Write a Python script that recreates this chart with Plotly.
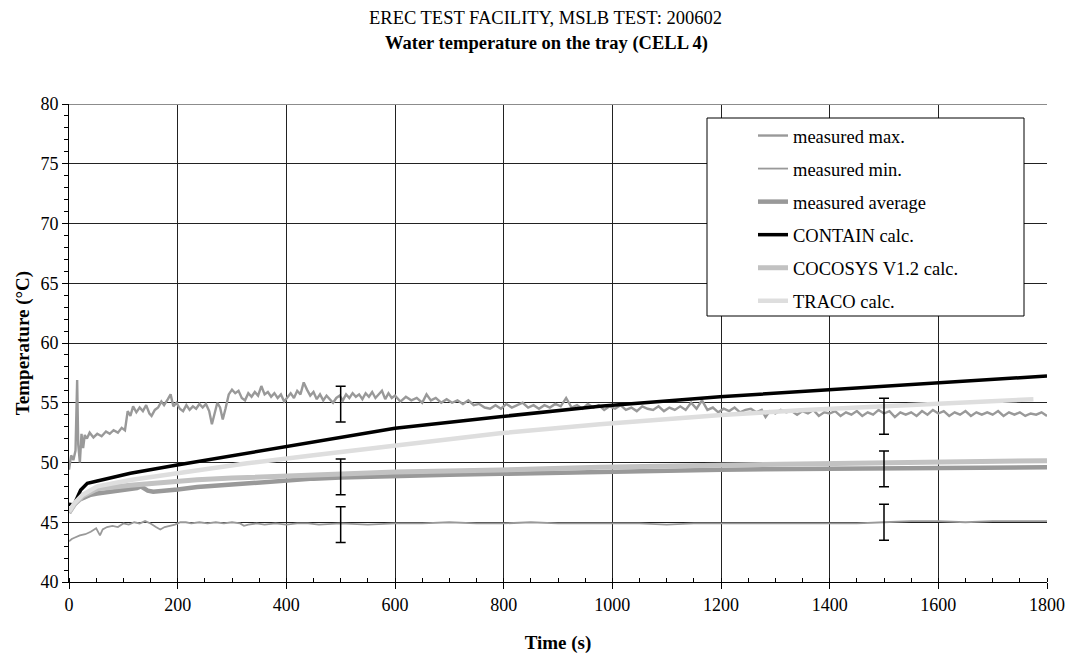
import plotly.graph_objects as go

# ---- measured maximum water temperature (s, °C) ----
max_time = [0, 4, 8, 12, 15, 17, 20, 23, 26, 29, 33, 38, 45, 52, 60, 68, 75, 82, 90, 97,
            103, 108, 113, 118, 124, 130, 136, 142, 148, 152, 158, 164, 170, 175, 182, 187,
            192, 198, 204, 210, 216, 222, 228, 234, 240, 246, 252, 258, 263, 268, 273, 278,
            283, 288, 294, 300, 306, 312, 318, 324, 330, 336, 342, 348, 354, 360, 366, 372,
            378, 384, 390, 396, 402, 408, 414, 420, 426, 432, 438, 444, 450, 456, 462, 468,
            474, 480, 486, 492, 498, 504, 510, 516, 522, 528, 534, 540, 546, 552, 558, 564,
            570, 576, 582, 588, 594, 600, 610, 620, 630, 640, 650, 658, 666, 675, 685, 695,
            705, 715, 725, 735, 745, 755, 765, 775, 785, 795, 805, 815, 825, 835, 845, 855,
            865, 875, 885, 895, 905, 915, 925, 935, 945, 955, 965, 975, 985, 995, 1005, 1015,
            1025, 1035, 1045, 1055, 1065, 1075, 1085, 1095, 1105, 1115, 1125, 1135, 1145,
            1155, 1165, 1175, 1185, 1195, 1205, 1215, 1225, 1235, 1245, 1255, 1265, 1275,
            1282, 1290, 1300, 1310, 1320, 1330, 1340, 1350, 1360, 1370, 1380, 1390, 1400,
            1410, 1420, 1430, 1440, 1450, 1460, 1470, 1480, 1490, 1500, 1510, 1520, 1530,
            1540, 1550, 1560, 1570, 1580, 1590, 1600, 1610, 1620, 1630, 1640, 1650, 1660,
            1670, 1680, 1690, 1700, 1710, 1720, 1730, 1740, 1750, 1760, 1770, 1780, 1790, 1800]
max_temp = [49.4, 50.6, 50.2, 51.0, 56.9, 51.5, 50.0, 52.4, 51.2, 52.3, 52.0, 52.5, 52.1, 52.4,
            52.2, 52.6, 52.4, 52.7, 52.5, 52.9, 52.7, 54.3, 53.9, 54.7, 54.2, 54.6, 54.3, 54.8,
            54.1, 53.9, 54.4, 54.6, 55.1, 54.8, 55.3, 55.7, 54.7, 55.0, 54.5, 54.3, 54.8, 54.4,
            54.7, 54.5, 54.9, 54.6, 54.9, 54.3, 53.2, 54.0, 55.0, 54.6, 53.6, 54.5, 55.7, 56.1,
            55.8, 56.0, 55.4, 55.2, 55.8, 55.5, 55.9, 55.6, 56.4, 55.7, 55.9, 55.5, 55.8, 55.4,
            55.7, 55.1, 55.5, 55.8, 55.4, 56.0, 55.7, 56.7, 56.1, 55.6, 55.9, 55.3, 55.7, 55.2,
            55.6, 55.3, 55.0, 55.4, 55.6, 55.2, 55.7, 55.4, 55.8, 55.5, 55.7, 55.3, 55.8, 55.5,
            55.9, 55.4, 55.7, 56.0, 55.3, 55.8, 55.4, 55.6, 55.1, 55.5, 55.2, 55.4, 55.0, 55.7,
            55.2, 55.4, 55.0, 55.3, 55.0, 55.2, 54.9, 55.2, 54.8, 54.9, 54.6, 54.5, 54.8, 54.5,
            54.9, 54.6, 54.8, 55.0, 54.6, 54.8, 54.5, 54.8, 54.6, 54.9, 54.7, 55.4, 54.6, 54.8,
            54.5, 54.9, 54.6, 54.8, 54.4, 54.7, 54.5, 54.8, 54.4, 54.6, 54.3, 54.7, 54.5, 54.4,
            54.7, 54.3, 54.6, 54.4, 54.7, 54.4, 55.0, 54.5, 55.2, 54.4, 54.6, 54.2, 54.5, 54.3,
            54.6, 54.2, 54.4, 54.5, 54.2, 54.4, 53.8, 54.3, 54.1, 54.4, 54.2, 54.3, 54.0, 54.3,
            54.1, 54.4, 53.9, 54.2, 54.1, 54.3, 53.9, 54.2, 54.0, 54.3, 53.9, 54.2, 54.0, 54.4,
            54.1, 54.3, 53.8, 54.2, 54.0, 54.2, 53.9, 54.3, 54.0, 54.4, 54.1, 54.3, 53.9, 54.2,
            54.0, 54.3, 53.9, 54.2, 54.0, 54.2, 54.0, 54.3, 53.9, 54.2, 54.0, 54.2, 53.9, 54.1,
            54.0, 54.2, 53.9]

# ---- measured minimum ----
min_time = [0, 5, 10, 20, 30, 40, 50, 57, 62, 70, 80, 90, 100, 110, 120, 130, 140, 150, 160,
            168, 176, 185, 195, 205, 215, 225, 240, 255, 270, 285, 300, 315, 322, 330, 345,
            360, 380, 400, 420, 440, 460, 500, 550, 600, 650, 700, 750, 800, 850, 900, 950,
            1000, 1050, 1100, 1150, 1200, 1250, 1300, 1350, 1400, 1450, 1500, 1550, 1600,
            1650, 1700, 1750, 1800]
min_temp = [43.4, 43.6, 43.7, 43.9, 44.0, 44.2, 44.5, 43.9, 44.4, 44.6, 44.7, 44.6, 44.9, 44.8,
            45.0, 44.9, 45.1, 44.9, 44.6, 44.4, 44.6, 44.7, 44.8, 45.0, 45.0, 44.9, 45.0, 44.9,
            45.0, 44.9, 45.0, 44.9, 44.7, 44.8, 44.9, 44.8, 44.9, 44.8, 44.9, 44.9, 44.8, 44.9,
            44.8, 44.9, 44.9, 45.0, 44.9, 44.9, 45.0, 44.9, 44.9, 44.9, 44.9, 44.8, 44.9, 44.9,
            44.9, 44.9, 44.9, 44.9, 44.9, 45.0, 45.1, 45.1, 45.0, 45.1, 45.1, 45.1]

# ---- measured average ----
avg_time = [0, 5, 10, 20, 28, 40, 52, 70, 85, 100, 113, 125, 132, 138, 145, 155, 175, 200,
            236, 280, 328, 380, 420, 450, 500, 600, 700, 793, 900, 1000, 1200, 1400, 1600, 1800]
avg_temp = [45.8, 46.2, 46.5, 46.9, 47.1, 47.3, 47.4, 47.5, 47.6, 47.65, 47.7, 47.85, 48.0,
            47.85, 47.65, 47.55, 47.6, 47.75, 47.95, 48.1, 48.25, 48.45, 48.55, 48.65, 48.75,
            48.9, 48.97, 49.05, 49.15, 49.25, 49.4, 49.48, 49.55, 49.6]

# ---- code calculations ----
contain_time = [0, 9, 21.5, 33.7, 52, 113, 199, 298, 425, 600, 793, 977, 1198, 1398, 1597, 1800]
contain_temp = [46.5, 46.45, 47.7, 48.26, 48.45, 49.1, 49.79, 50.54, 51.55, 52.86, 53.83, 54.7,
                55.5, 56.07, 56.63, 57.24]

cocosys_time = [0, 10, 25, 52, 113, 175, 236, 300, 360, 450, 600, 793, 977, 1222, 1468, 1800]
cocosys_temp = [45.8, 46.5, 47.2, 47.8, 48.1, 48.35, 48.55, 48.7, 48.82, 49.0, 49.2, 49.37,
                49.6, 49.8, 49.93, 50.15]

traco_time = [0, 10, 25, 52, 113, 175, 236, 328, 450, 609, 793, 977, 1201, 1355, 1591, 1775]
traco_temp = [45.9, 46.6, 47.3, 48.0, 48.54, 48.96, 49.37, 49.93, 50.6, 51.46, 52.44, 53.2,
              53.97, 54.4, 54.95, 55.3]

# ---- measurement uncertainty bars ----
err_time = [500, 500, 500, 1500, 1500, 1500]
err_temp = [54.88, 48.8, 44.8, 53.87, 49.47, 45.0]
err_half = [1.5, 1.5, 1.5, 1.5, 1.5, 1.5]

SERIF = "Liberation Serif, Times New Roman, serif"

# plot area in pixels: left 69, right 1047, top 104, bottom 582
PL, PT, PW, PH = 69, 104, 978, 478


def px_x(px):
    return (px - PL) / PW


def px_y(py):
    return (PT + PH - py) / PH


series = [
    ("measured max.", max_time, max_temp, "#999999", 2.4),
    ("measured min.", min_time, min_temp, "#999999", 1.8),
    ("measured average", avg_time, avg_temp, "#999999", 4.5),
    ("CONTAIN calc.", contain_time, contain_temp, "#000000", 3.5),
    ("COCOSYS V1.2 calc.", cocosys_time, cocosys_temp, "#c2c2c2", 5),
    ("TRACO calc.", traco_time, traco_temp, "#dedede", 4.5),
]

fig = go.Figure()
for i, (name, tx, ty, color, width) in enumerate(series):
    fig.add_trace(go.Scatter(
        x=tx, y=ty, name=name, mode="lines", legendgroup=f"g{i}",
        line=dict(color=color, width=width),
    ))

fig.add_trace(go.Scatter(
    x=err_time, y=err_temp, mode="markers", showlegend=False,
    marker=dict(size=0.1, color="rgba(0,0,0,0)"),
    error_y=dict(type="data", array=err_half, color="#000000", thickness=1.5, width=5),
))

# legend frame
fig.add_shape(type="rect", xref="paper", yref="paper",
              x0=px_x(707), x1=px_x(1024), y0=px_y(316), y1=px_y(118),
              line=dict(color="#000000", width=1), fillcolor="#ffffff", layer="above")
# plot-area top border
fig.add_shape(type="line", xref="paper", yref="y", x0=0, x1=1, y0=80, y1=80,
              line=dict(color="#8c8c8c", width=2), layer="above")

# two-line heading
fig.add_annotation(text="EREC TEST FACILITY, MSLB TEST: 200602",
                   xref="paper", yref="paper", x=px_x(545), y=px_y(18),
                   xanchor="center", yanchor="middle", showarrow=False,
                   font=dict(family=SERIF, size=18.5, color="#000000"))
fig.add_annotation(text="<b>Water temperature on the tray (CELL 4)</b>",
                   xref="paper", yref="paper", x=px_x(546), y=px_y(43),
                   xanchor="center", yanchor="middle", showarrow=False,
                   font=dict(family=SERIF, size=18.5, color="#000000"))

axis_common = dict(
    showgrid=True, gridcolor="#222222", gridwidth=1,
    showline=True, linecolor="#000000", linewidth=1,
    zeroline=False, ticks="outside", ticklen=6, tickcolor="#000000",
    tickfont=dict(family=SERIF, size=18, color="#000000"),
    automargin=False,
)

fig.update_layout(
    width=1072, height=657,
    margin=dict(l=PL, r=1072 - PL - PW, t=PT, b=657 - PT - PH),
    paper_bgcolor="#ffffff", plot_bgcolor="#ffffff",
    font=dict(family=SERIF, color="#000000"),
    xaxis=dict(
        range=[0, 1800], tickvals=list(range(0, 1801, 200)),
        title=dict(text="<b>Time (s)</b>", font=dict(family=SERIF, size=19), standoff=22),
        minor=dict(dtick=50, ticks="inside", ticklen=4, tickcolor="#000000", showgrid=False),
        **axis_common,
    ),
    yaxis=dict(
        range=[40, 80], tickvals=list(range(40, 81, 5)),
        title=dict(text="<b>Temperature (°C)</b>", font=dict(family=SERIF, size=19), standoff=5),
        minor=dict(dtick=1, ticks="outside", ticklen=4, tickcolor="#000000", showgrid=False),
        **axis_common,
    ),
    legend=dict(
        x=px_x(753), y=px_y(117), xanchor="left", yanchor="top",
        bgcolor="rgba(0,0,0,0)", borderwidth=0,
        font=dict(family=SERIF, size=18.5, color="#000000"),
        traceorder="grouped", tracegroupgap=6,
    ),
    showlegend=True,
)

fig.write_html("out.html")
